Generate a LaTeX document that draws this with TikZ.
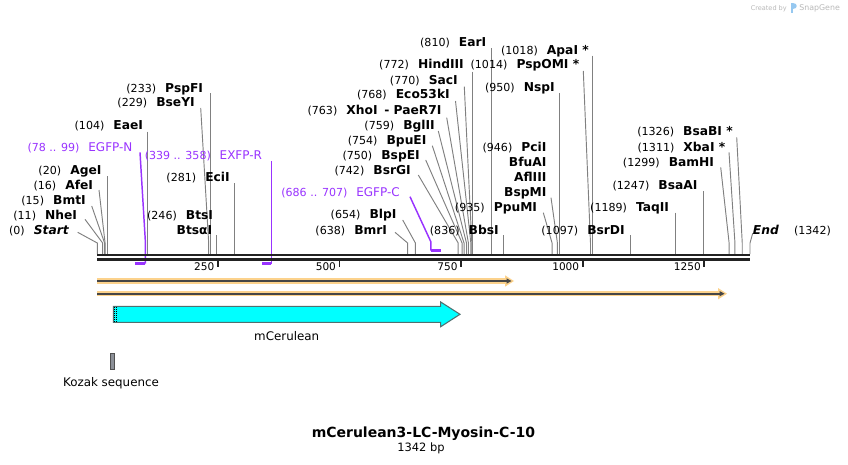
\documentclass[tikz,border=0pt]{standalone}
\usepackage{fontspec}
\setmainfont{DejaVu Sans}
\definecolor{primer}{RGB}{153,51,255}
\definecolor{cutgray}{RGB}{128,128,128}
\definecolor{bbcol}{RGB}{34,34,34}
\definecolor{orng}{RGB}{252,210,140}
\definecolor{darkl}{RGB}{70,70,70}
\definecolor{cyanf}{RGB}{0,255,255}
\definecolor{cyand}{RGB}{80,112,112}
\definecolor{kozf}{RGB}{140,144,152}
\definecolor{kozd}{RGB}{80,80,80}
\definecolor{sgray}{RGB}{185,185,185}
\definecolor{sblue}{RGB}{150,200,240}
\newcommand\EnzL[5]{%
  \node[nm] (#1) at (#2,#3+4.5) {#5};
  \node[num] (#1-n) at ([xshift=-6.4pt]#1.base west) {(#4)};}
\newcommand\EnzS[4]{%
  \node[nm] (#1) at (#2,#3+4.5) {#4};}
\newcommand\CutD[4]{%
  \coordinate (#1-a) at (#2,#3);
  \coordinate (#1-k) at ({97.3+0.48637*#4},243);
  \coordinate (#1-s) at ({97.3+0.48637*#4},254);
  \draw[cut] (#1-a) -- (#1-k) -- (#1-s);}
\newcommand\CutV[3]{%
  \coordinate (#1-a) at ({97.3+0.48637*#3},#2);
  \coordinate (#1-s) at ({97.3+0.48637*#3},254);
  \draw[cut] (#1-a) -- (#1-s);}
\begin{document}
\begin{tikzpicture}[x=0.75pt,y=-0.75pt,
  nm/.style={font=\fontsize{9.2}{11}\selectfont\bfseries, inner sep=0pt, anchor=base east},
  num/.style={font=\fontsize{8.3}{10}\selectfont, inner sep=0pt, anchor=base east},
  prm/.style={font=\fontsize{9}{11}\selectfont, text=primer, inner sep=0pt, anchor=base east},
  prmnum/.style={font=\fontsize{8.3}{10}\selectfont, text=primer, inner sep=0pt, anchor=base east},
  cut/.style={draw=cutgray, line width=0.7pt},
  primline/.style={draw=primer, line width=1.1pt},
  primbar/.style={draw=primer, line width=1.6pt},
  bbline/.style={draw=bbcol, line width=1.8pt},
  tickmark/.style={draw=bbcol, line width=1.3pt},
  ticklbl/.style={font=\fontsize{7.9}{9}\selectfont, inner sep=0pt, anchor=base east},
  featlbl/.style={font=\fontsize{8.9}{10}\selectfont, inner sep=0pt, anchor=base}]
\useasboundingbox (0,0) rectangle (848,464);
\fill[white] (0,0) rectangle (848,464);

% ---------- cut-site connectors ----------
\CutD{start}{77.7}{232.3}{0}
\CutD{nhe}{85}{219.3}{11}
\CutD{bmt}{91.7}{206}{15}
\CutD{afe}{99}{190}{16}
\CutV{age}{176}{20}
\CutV{eae}{131.7}{104}
\CutD{bseyi}{200.7}{108}{229}
\CutV{pspfi}{93}{233}
\CutV{bts}{235}{246}
\CutV{eci}{183.3}{281}
\CutD{bmr}{395}{232.3}{638}
\CutD{blp}{402.7}{220}{654}
\CutD{bsrg}{418.3}{175}{742}
\CutD{bsp}{425.7}{160}{750}
\CutD{bpu}{432.3}{145.7}{754}
\CutD{bgl}{438.3}{131}{759}
\CutD{xho}{446.7}{117.7}{763}
\CutD{eco}{455.5}{101}{768}
\CutD{sac}{464.3}{86.7}{770}
\CutV{hind}{71.7}{772}
\CutV{ear}{48.3}{810}
\CutV{bbs}{235}{836}
\CutD{ppu}{543.3}{212.7}{935}
\CutD{pci}{551}{197.7}{946}
\CutV{nsp}{93.3}{950}
\CutD{pspomi}{583.3}{71}{1014}
\CutV{apa}{55.7}{1018}
\CutV{bsrd}{235}{1097}
\CutV{taq}{212.7}{1189}
\CutV{bsaa}{191}{1247}
\CutD{bam}{720.7}{167.3}{1299}
\CutD{xba}{729}{152.3}{1311}
\CutD{bsab}{736.7}{137.3}{1326}
\CutD{end}{752.7}{233.3}{1342}

% ---------- primers ----------
\coordinate (en-a) at (140,152.3);
\coordinate (en-k) at ({97.3+0.48637*99},243);
\coordinate (en-b) at ({97.3+0.48637*99},263.5);
\coordinate (en-c) at ({97.3+0.48637*78},263.5);
\draw[primline] (en-a) -- (en-k) -- (en-b);
\draw[primbar] (en-b) -- (en-c);
\coordinate (er-a) at ({97.3+0.48637*358},161);
\coordinate (er-b) at ({97.3+0.48637*358},263.5);
\coordinate (er-c) at ({97.3+0.48637*339},263.5);
\draw[primline] (er-a) -- (er-b);
\draw[primbar] (er-b) -- (er-c);
\coordinate (ec-a) at (410,196.7);
\coordinate (ec-k) at ({97.3+0.48637*686},242);
\coordinate (ec-b) at ({97.3+0.48637*686},250.5);
\coordinate (ec-c) at ({97.3+0.48637*707},250.5);
\draw[primline] (ec-a) -- (ec-k) -- (ec-b);
\draw[primbar] (ec-b) -- (ec-c);

% ---------- backbone ----------
\draw[bbline] (97.3,255.2) -- (750,255.2);
\draw[bbline] (97.3,259.5) -- (750,259.5);
\foreach \t in {250,500,750,1000,1250}{
  \draw[tickmark] ({96.3+0.48637*\t},260.5) -- ++(0,6.8);
  \node[ticklbl] (tick\t) at ({96.3+0.48637*\t-3.3},270.7) {\t};
}

% ---------- tracks ----------
\fill[orng] (97.3,278.4) rectangle (506,283.6);
\fill[orng] (505,275.3) -- (514,281) -- (505,286.7) -- cycle;
\draw[darkl, line width=1.3pt] (97.3,281) -- (507.5,281);
\fill[darkl] (506.5,278.3) -- (511.5,281) -- (506.5,283.7) -- cycle;
\fill[orng] (97.3,291.1) rectangle (719,296.3);
\fill[orng] (718,288) -- (727,293.7) -- (718,299.4) -- cycle;
\draw[darkl, line width=1.3pt] (97.3,293.7) -- (720.5,293.7);
\fill[darkl] (719.5,291) -- (724.5,293.7) -- (719.5,296.4) -- cycle;

% ---------- features ----------
\draw[fill=cyanf, draw=cyand, line width=0.8pt] (113.3,306.3) -- (440.7,306.3) -- (440.7,302) -- (460,314.3) -- (440.7,326.7) -- (440.7,322.3) -- (113.3,322.3) -- cycle;
\draw[black, line width=0.6pt, dash pattern=on 0.75pt off 0.75pt] (114.5,306.8) -- (114.5,321.8);
\draw[black, line width=0.6pt, dash pattern=on 0.75pt off 0.75pt] (116.3,306.8) -- (116.3,321.8);
\node[featlbl] (mcer) at (286.7,340) {mCerulean};
\draw[fill=kozf, draw=kozd, line width=0.6pt] (110.3,353) rectangle (114.7,369);
\node[featlbl] (kozak) at (111,386) {Kozak sequence};

% ---------- enzyme labels ----------
\node[nm, anchor=base east] (start) at (69,234.5) {\itshape Start};
\node[num] (start-n) at ([xshift=-6.4pt]start.base west) {(0)};
\EnzL{nhe}{77.3}{215}{11}{NheI}
\EnzL{bmt}{86}{200}{15}{BmtI}
\EnzL{afe}{93.3}{185}{16}{AfeI}
\EnzL{age}{101.7}{170}{20}{AgeI}
\EnzL{eae}{143.3}{125}{104}{EaeI}
\EnzL{bseyi}{195}{101.7}{229}{BseYI}
\EnzL{pspfi}{203.3}{87.7}{233}{PspFI}
\EnzL{eci}{230}{176.7}{281}{EciI}
\EnzL{bts}{213.3}{215}{246}{BtsI}
\EnzS{btsa}{212.5}{230}{BtsαI}
\EnzL{bmr}{387.3}{230}{638}{BmrI}
\EnzL{blp}{396.7}{214.3}{654}{BlpI}
\EnzL{bsrg}{411}{170}{742}{BsrGI}
\EnzL{bsp}{420}{155}{750}{BspEI}
\EnzL{bpu}{426.7}{140}{754}{BpuEI}
\EnzL{bgl}{435}{125}{759}{BglII}
\EnzL{xho}{441.7}{110}{763}{XhoI\hspace{5pt}- PaeR7I}
\EnzL{eco}{450}{94.3}{768}{Eco53kI}
\EnzL{sac}{458}{80}{770}{SacI}
\EnzL{hind}{464}{64.3}{772}{HindIII}
\EnzL{ear}{486.5}{42.3}{810}{EarI}
\EnzL{bbs}{499}{230}{836}{BbsI}
\EnzL{ppu}{537.3}{206.7}{935}{PpuMI}
\EnzL{pci}{546.7}{146.7}{946}{PciI}
\EnzS{bfu}{546.7}{161.7}{BfuAI}
\EnzS{afl}{546.7}{176.7}{AflIII}
\EnzS{bspm}{546.7}{191.7}{BspMI}
\EnzL{nsp}{555}{86.7}{950}{NspI}
\EnzL{pspomi}{579.5}{64.3}{1014}{PspOMI *}
\EnzL{apa}{589}{49.7}{1018}{ApaI *}
\EnzL{bsrd}{625}{230}{1097}{BsrDI}
\EnzL{taq}{669.3}{206.7}{1189}{TaqII}
\EnzL{bsaa}{697.7}{185}{1247}{BsaAI}
\EnzL{bam}{714.3}{162.3}{1299}{BamHI}
\EnzL{xba}{725.5}{146.7}{1311}{XbaI *}
\EnzL{bsab}{733}{131}{1326}{BsaBI *}
\node[nm, anchor=base west] (end) at (752.7,234.5) {\itshape End};
\node[num, anchor=base west] (end-n) at ([xshift=11pt]end.base east) {(1342)};

% ---------- primer labels ----------
\node[prm] (egfpn) at (132.7,151.3) {EGFP-N};
\node[prmnum] (egfpn-n) at ([xshift=-6.2pt]egfpn.base west) {(78 .. 99)};
\node[prm] (exfpr) at (262.3,159.4) {EXFP-R};
\node[prmnum] (exfpr-n) at ([xshift=-6.2pt]exfpr.base west) {(339 .. 358)};
\node[prm] (egfpc) at (400,196.5) {EGFP-C};
\node[prmnum] (egfpc-n) at ([xshift=-6.2pt]egfpc.base west) {(686 .. 707)};

% ---------- title ----------
\node[font=\fontsize{10.5}{12}\selectfont\bfseries, inner sep=0pt, anchor=base] (title) at (423.4,437.7) {mCerulean3-LC-Myosin-C-10};
\node[font=\fontsize{8.6}{10}\selectfont, inner sep=0pt, anchor=base] (len) at (421,451) {1342 bp};

% ---------- credit ----------
\node[font=\fontsize{4.9}{6}\selectfont, text=sgray, inner sep=0pt, anchor=base east] (cred) at (787,10.5) {Created by};
\fill[sblue] (790.5,3) rectangle (793,13);
\fill[sblue] (793,3) .. controls (797.5,3) and (797.5,9) .. (793,9) -- cycle;
\node[font=\fontsize{5.9}{7}\selectfont, text=sgray, inner sep=0pt, anchor=base west] (sg) at (799,11) {SnapGene};
\end{tikzpicture}
\end{document}
